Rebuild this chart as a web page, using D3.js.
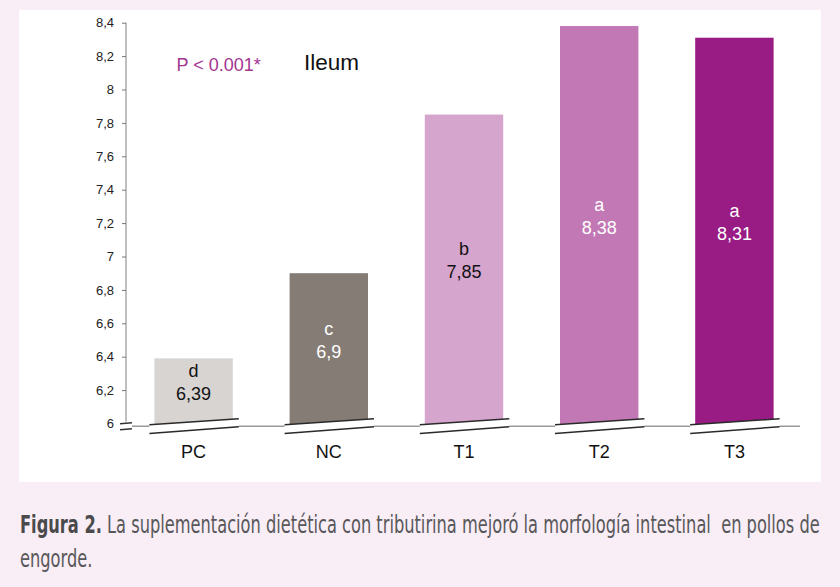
<!DOCTYPE html>
<html>
<head>
<meta charset="utf-8">
<script src="https://cdn.jsdelivr.net/npm/d3@7"></script>
<style>
  html, body { margin: 0; padding: 0; background: #F9EDF6; }
  svg { display: block; }
</style>
</head>
<body>
<svg id="chart" width="840" height="587"></svg>
<script>
// ---- data ----
const categories = ["PC", "NC", "T1", "T2", "T3"];
const values = [6.39, 6.9, 7.85, 8.38, 8.31];
const letters = ["d", "c", "b", "a", "a"];
const valueLabels = ["6,39", "6,9", "7,85", "8,38", "8,31"];
const yTicks = [6, 6.2, 6.4, 6.6, 6.8, 7, 7.2, 7.4, 7.6, 7.8, 8, 8.2, 8.4];
const yTickLabels = ["6", "6,2", "6,4", "6,6", "6,8", "7", "7,2", "7,4", "7,6", "7,8", "8", "8,2", "8,4"];
const barColors = ["#D8D4D1", "#857C75", "#D6A5CD", "#C378B6", "#991B84"];
const labelColors = ["#111", "#fff", "#111", "#fff", "#fff"];
const pText = "P < 0.001*";
const panelTitle = "Ileum";
const captionBold = "Figura 2.";
const captionLine1 = " La suplementación dietética con tributirina mejoró la morfología intestinal  en pollos de";
const captionLine2 = "engorde.";

// ---- drawing ----
const svg = d3.select("#chart");
const font = "'Liberation Sans', Arial, Helvetica, sans-serif";

// white panel
svg.append("rect").attr("x", 19).attr("y", 10).attr("width", 802).attr("height", 472).attr("fill", "#fff");

const x = d3.scaleBand().domain(categories).range([126, 802]).paddingInner(0.42).paddingOuter(0.21);
const y = d3.scaleLinear().domain([6, 8.4]).range([423.5, 22.7]);
const bw = x.bandwidth();

// baseline
svg.append("line").attr("x1", 132).attr("x2", 800).attr("y1", 426.3).attr("y2", 426.3)
  .attr("stroke", "#9a9a9a").attr("stroke-width", 1.5);

// y axis
const yAxis = d3.axisLeft(y).tickValues(yTicks.slice(1)).tickSize(4).tickPadding(8)
  .tickFormat((d) => yTickLabels[yTicks.indexOf(d)]);
const gy = svg.append("g").attr("transform", "translate(126,0)").call(yAxis);
gy.select(".domain").remove();
gy.selectAll(".tick line").attr("stroke", "#777");
gy.selectAll(".tick text").attr("font-family", font).attr("font-size", 13).attr("fill", "#222");
// label for 6 (broken axis)
svg.append("text").attr("x", 114).attr("y", y(6)).attr("dy", "0.32em").attr("text-anchor", "end")
  .attr("font-family", font).attr("font-size", 13).attr("fill", "#222").text(yTickLabels[0]);
svg.append("line").attr("x1", 126).attr("x2", 126).attr("y1", y(8.4)).attr("y2", y(6) - 1.8)
  .attr("stroke", "#808080").attr("stroke-width", 1);
// axis break marks
[0, 6].forEach((dy) => {
  svg.append("line").attr("x1", 120).attr("x2", 132).attr("y1", 423.8 + dy).attr("y2", 422.8 + dy)
    .attr("stroke", "#333").attr("stroke-width", 1.5);
});

// bars
const bars = svg.append("g");
categories.forEach((c, i) => {
  const x0 = x(c);
  bars.append("rect").attr("x", x0).attr("y", y(values[i])).attr("width", bw)
    .attr("height", 426 - y(values[i])).attr("fill", barColors[i]);
  const xl = x0 - 5, xr = x0 + bw + 6;
  const up = [[xl, 424.7], [xr, 418.7]];
  const lo = [[xl, 433.4], [xr, 426.8]];
  bars.append("polygon").attr("points", [up[0], up[1], lo[1], lo[0]].map((p) => p.join(",")).join(" "))
    .attr("fill", "#fff");
  [up, lo].forEach((l) => {
    bars.append("line").attr("x1", l[0][0]).attr("y1", l[0][1]).attr("x2", l[1][0]).attr("y2", l[1][1])
      .attr("stroke", "#2a2a2a").attr("stroke-width", 1.5);
  });
  const cx = x0 + bw / 2;
  const mid = (y(values[i]) + 422) / 2;
  bars.append("text").attr("x", cx).attr("y", mid + 10 - 23).attr("text-anchor", "middle")
    .attr("font-family", font).attr("font-size", 18).attr("fill", labelColors[i]).text(letters[i]);
  bars.append("text").attr("x", cx).attr("y", mid + 10).attr("text-anchor", "middle")
    .attr("font-family", font).attr("font-size", 18).attr("fill", labelColors[i]).text(valueLabels[i]);
  // category label
  svg.append("text").attr("x", cx).attr("y", 458).attr("text-anchor", "middle")
    .attr("font-family", font).attr("font-size", 18).attr("fill", "#111").text(c);
});

// annotations
svg.append("text").attr("x", 176.5).attr("y", 70.7).attr("font-family", font).attr("font-size", 18)
  .attr("fill", "#A33592").text(pText);
svg.append("text").attr("x", 304).attr("y", 70).attr("font-family", font).attr("font-size", 22.5)
  .attr("fill", "#111").text(panelTitle);

// caption
const capFont = "'Liberation Sans Narrow', 'DejaVu Sans Condensed', 'Arial Narrow', 'Liberation Sans', sans-serif";
const cap = svg.append("g");
const t1 = cap.append("text").attr("x", 0).attr("y", 0).attr("font-family", capFont)
  .attr("font-size", 25).attr("font-stretch", "condensed").attr("fill", "#58585A")
  .style("white-space", "pre");
t1.append("tspan").attr("font-weight", "bold").attr("fill", "#4A4A4C").text(captionBold);
t1.append("tspan").text(captionLine1);
const t2 = cap.append("text").attr("x", 0).attr("y", 34).attr("font-family", capFont)
  .attr("font-size", 25).attr("font-stretch", "condensed").attr("fill", "#58585A").text(captionLine2);
const w = t1.node().getComputedTextLength();
const s = 800 / w;
cap.attr("transform", `translate(20,533) scale(${s},1)`);
</script>
</body>
</html>
